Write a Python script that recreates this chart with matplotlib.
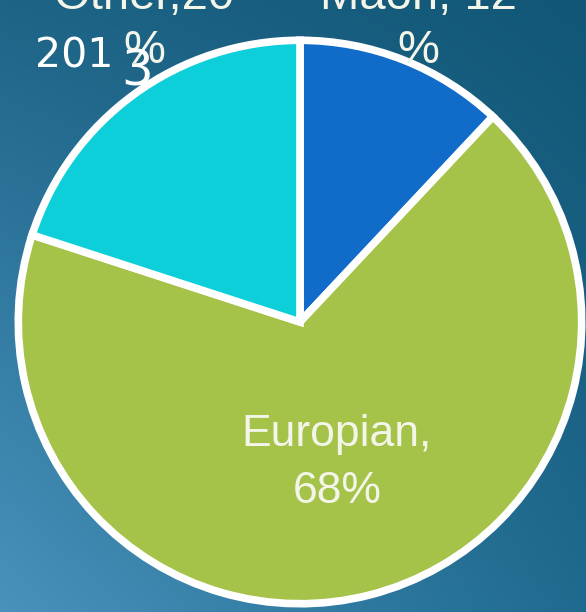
import numpy as np
import matplotlib
matplotlib.use("Agg")
import matplotlib.pyplot as plt

categories = ["Maori", "Europian", "Other"]
values = [12, 68, 20]
colors = ["#106cc8", "#a5c249", "#0ccfd9"]
title = "2013"

W, H = 586, 612
fig = plt.figure(figsize=(W / 100, H / 100), dpi=100)

# gradient background
bg = fig.add_axes([0, 0, 1, 1])
bg.set_axis_off()
tl = np.array([0x1d, 0x64, 0x87]) / 255
tr = np.array([0x11, 0x56, 0x76]) / 255
bl = np.array([0x48, 0x92, 0xbc]) / 255
br = np.array([0x1f, 0x6a, 0x8e]) / 255
yy, xx = np.mgrid[0:1:200j, 0:1:200j]
img = (tl[None, None, :] * ((1 - xx) * (1 - yy))[..., None]
       + tr[None, None, :] * (xx * (1 - yy))[..., None]
       + bl[None, None, :] * ((1 - xx) * yy)[..., None]
       + br[None, None, :] * (xx * yy)[..., None])
bg.imshow(img, extent=[0, 1, 0, 1], aspect="auto", origin="upper")
bg.set_xlim(0, 1)
bg.set_ylim(0, 1)

# pie axes
cx, cy, R = 300, 322, 286
ax = fig.add_axes([(cx - R) / W, (H - cy - R) / H, 2 * R / W, 2 * R / H])
ax.set_axis_off()
wedges, _ = ax.pie(values, colors=colors, startangle=90, counterclock=False,
                   radius=0.985,
                   wedgeprops=dict(edgecolor="white", linewidth=5.5))
for w in wedges:
    w.set_clip_on(False)
ax.set_xlim(-1, 1)
ax.set_ylim(-1, 1)

out_font = dict(family="Liberation Sans", color="#f3f5e8", fontsize=34,
                ha="center", va="baseline", linespacing=1.3)
in_font = dict(family="Liberation Sans", color="#f3f5e8", fontsize=32,
               ha="center", va="baseline", linespacing=1.5)
fig.text(418 / W, 1 - 63 / H, f"{categories[0]}, {values[0]}\n%", **out_font)
fig.text(144 / W, 1 - 63 / H, f"{categories[2]},{values[2]}\n%", **out_font)
fig.text(337 / W, 1 - 503 / H, f"{categories[1]},\n{values[1]}%", **in_font)

fig.text(35 / W, 1 - 68 / H, title[:-1], family="DejaVu Sans", color="white",
         fontsize=29.5, ha="left", va="baseline")
fig.text(121 / W, 1 - 85 / H, title[-1], family="DejaVu Sans", color="white",
         fontsize=36, ha="left", va="baseline")

fig.savefig("out.png", dpi=100)
